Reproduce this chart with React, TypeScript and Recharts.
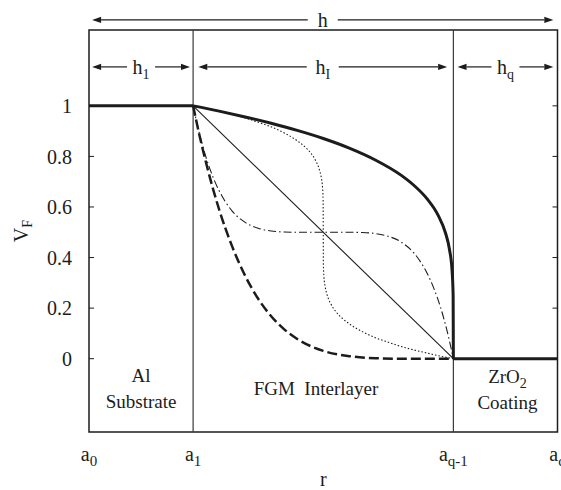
import React from "react";
import {
  LineChart,
  Line,
  XAxis,
  YAxis,
  ReferenceLine,
  ReferenceArea,
  ReferenceDot,
} from "recharts";

const FONT = "Liberation Serif, Times New Roman, serif";
const INK = "#1c1c1c";

// radial positions: a0 = 0, a1 = 1, a(q-1) = 3.5, aq = 4.5
const xTicks = [0, 1, 3.5, 4.5];
const xTickSubs = ["0", "1", "q-1", "q"];
const yTicks = [0, 0.2, 0.4, 0.6, 0.8, 1];

// thick solid pieces: substrate, convex profile, coating
const rSubstrate = [0, 1];
const vSubstrate = [1, 1];
const rConvex = [1, 1.25, 1.5, 1.75, 2, 2.25, 2.5, 2.75, 3, 3.125, 3.25, 3.35, 3.425, 3.4625, 3.4875, 3.4975, 3.5];
const vConvex = [1, 0.979, 0.956, 0.931, 0.903, 0.871, 0.833, 0.786, 0.725, 0.684, 0.631, 0.57, 0.496, 0.432, 0.347, 0.251, 0];
const rCoating = [3.5, 4.5];
const vCoating = [0, 0];

// thick dashed: concave profile
const rDashed = [1, 1.0625, 1.125, 1.1875, 1.25, 1.375, 1.5, 1.625, 1.75, 1.875, 2, 2.25, 2.5, 2.75, 3, 3.25, 3.5];
const vDashed = [1, 0.881, 0.774, 0.677, 0.59, 0.444, 0.328, 0.237, 0.168, 0.116, 0.078, 0.031, 0.01, 0.002, 0, 0, 0];

// thin solid: linear
const rLinear = [1, 3.5];
const vLinear = [1, 0];

// dotted: steep in the middle
const rDotted = [1, 1.125, 1.25, 1.375, 1.5, 1.625, 1.75, 1.875, 2, 2.0625, 2.125, 2.175, 2.2125, 2.23125, 2.24375, 2.24875, 2.25, 2.25125, 2.25625, 2.26875, 2.2875, 2.325, 2.375, 2.4375, 2.5, 2.625, 2.75, 2.875, 3, 3.125, 3.25, 3.375, 3.5];
const vDotted = [1, 0.99, 0.978, 0.966, 0.952, 0.935, 0.917, 0.893, 0.862, 0.842, 0.816, 0.785, 0.748, 0.716, 0.674, 0.626, 0.5, 0.374, 0.326, 0.284, 0.252, 0.215, 0.184, 0.158, 0.138, 0.107, 0.083, 0.065, 0.048, 0.034, 0.022, 0.01, 0];

// dash-dot: flat in the middle
const rDashDot = [1, 1.0625, 1.125, 1.1875, 1.25, 1.3125, 1.375, 1.5, 1.625, 1.75, 1.875, 2, 2.25, 2.5, 2.625, 2.75, 2.875, 3, 3.125, 3.1875, 3.25, 3.3125, 3.375, 3.4375, 3.5];
const vDashDot = [1, 0.887, 0.795, 0.722, 0.664, 0.619, 0.584, 0.539, 0.516, 0.505, 0.501, 0.5, 0.5, 0.5, 0.499, 0.495, 0.484, 0.461, 0.416, 0.381, 0.336, 0.278, 0.205, 0.113, 0];

const toPoints = (r: number[], v: number[]) => r.map((x, i) => ({ r: x, v: v[i] }));

// dimension arrows across the top
const spans = [
  { from: 0.03, to: 4.46, level: 1.34, sub: "", gap: 30 },
  { from: 0.03, to: 0.97, level: 1.154, sub: "1", gap: 28 },
  { from: 1.05, to: 3.44, level: 1.154, sub: "I", gap: 32 },
  { from: 3.54, to: 4.46, level: 1.154, sub: "q", gap: 28 },
];

const regions = [
  { x: 0.5, y: -0.118, lines: [["Al", ""], ["Substrate", ""]] },
  { x: 2.18, y: -0.118, lines: [["FGM\u00a0\u00a0Interlayer", ""]] },
  { x: 4.02, y: -0.122, lines: [["ZrO", "2"], ["Coating", ""]] },
];

function dimArrow(sub: string, gap: number) {
  return (props: any) => {
    const { x1, y1, x2 } = props;
    const mid = (x1 + x2) / 2;
    const ah = 9;
    const hw = 3.2;
    return (
      <g>
        <line x1={x1 + ah} y1={y1} x2={mid - gap / 2} y2={y1} stroke={INK} strokeWidth={1.2} />
        <line x1={mid + gap / 2} y1={y1} x2={x2 - ah} y2={y1} stroke={INK} strokeWidth={1.2} />
        <polygon points={`${x1},${y1} ${x1 + ah},${y1 - hw} ${x1 + ah},${y1 + hw}`} fill={INK} />
        <polygon points={`${x2},${y1} ${x2 - ah},${y1 - hw} ${x2 - ah},${y1 + hw}`} fill={INK} />
        <text x={mid} y={y1 + 7} textAnchor="middle" fontFamily={FONT} fontSize={20} fill={INK}>
          h
          {sub && (
            <tspan fontSize={14} dy={5}>
              {sub}
            </tspan>
          )}
        </text>
      </g>
    );
  };
}

function regionText(lines: string[][]) {
  return (props: any) => {
    const { cx, cy } = props;
    const n = lines.length;
    return (
      <g>
        {lines.map(([main, sub], i) => (
          <text
            key={i}
            x={cx}
            y={cy + 6 + (i - (n - 1) / 2) * 26}
            textAnchor="middle"
            fontFamily={FONT}
            fontSize={19}
            fill={INK}
          >
            {main}
            {sub && (
              <tspan fontSize={14} dy={5}>
                {sub}
              </tspan>
            )}
          </text>
        ))}
      </g>
    );
  };
}

function RTick(props: any) {
  const { x, y, payload } = props;
  const sub = xTickSubs[xTicks.indexOf(payload.value)];
  return (
    <text x={x} y={y + 29} textAnchor="middle" fontFamily={FONT} fontSize={20} fill={INK}>
      a
      <tspan fontSize={15} dy={5}>
        {sub}
      </tspan>
    </text>
  );
}

const yLabel = (props: any) => {
  const vb = props.viewBox || {};
  const cx = 22;
  const cy = vb.y + vb.height / 2;
  return (
    <text
      x={cx}
      y={cy + 6}
      transform={`rotate(-90, ${cx}, ${cy})`}
      textAnchor="middle"
      fontFamily={FONT}
      fontSize={20}
      fill={INK}
    >
      V
      <tspan fontSize={14} dy={4}>
        F
      </tspan>
    </text>
  );
};

const xLabel = (props: any) => {
  const vb = props.viewBox || {};
  return (
    <text x={vb.x + vb.width / 2} y={vb.y + vb.height - 4} textAnchor="middle" fontFamily={FONT} fontSize={20} fill={INK}>
      r
    </text>
  );
};

const noTick = () => <g />;

export default function App() {
  const domainY: [number, number] = [-0.29, 1.3];
  const thick = { stroke: INK, strokeWidth: 3, dot: false, activeDot: false, isAnimationActive: false, dataKey: "v" };
  return (
    <div style={{ position: "absolute", left: 0, top: 0, background: "#fff" }}>
      <LineChart width={561} height={490} margin={{ top: 30, right: 3.5, bottom: 0, left: 0 }}>
        <XAxis
          dataKey="r"
          type="number"
          domain={[0, 4.5]}
          ticks={xTicks}
          interval={0}
          allowDataOverflow
          axisLine={false}
          tickLine={false}
          tickSize={0}
          tickMargin={0}
          height={58}
          tick={<RTick />}
          label={xLabel}
        />
        <YAxis
          type="number"
          domain={domainY}
          ticks={yTicks}
          interval={0}
          allowDataOverflow
          width={89}
          axisLine={false}
          tickLine={false}
          tickSize={0}
          tickMargin={17}
          tick={{ fontFamily: FONT, fontSize: 20, fill: INK }}
          label={yLabel}
        />
        <YAxis
          yAxisId="innerLeft"
          type="number"
          orientation="left"
          mirror
          domain={domainY}
          ticks={yTicks}
          interval={0}
          allowDataOverflow
          axisLine={false}
          tickLine={{ stroke: INK, strokeWidth: 1 }}
          tickSize={5}
          tick={noTick}
        />
        <YAxis
          yAxisId="innerRight"
          type="number"
          orientation="right"
          mirror
          domain={domainY}
          ticks={yTicks}
          interval={0}
          allowDataOverflow
          axisLine={false}
          tickLine={{ stroke: INK, strokeWidth: 1 }}
          tickSize={5}
          tick={noTick}
        />

        <ReferenceArea
          x1={0}
          x2={4.5}
          y1={domainY[0]}
          y2={domainY[1]}
          fill="none"
          fillOpacity={0}
          stroke={INK}
          strokeWidth={1.5}
          ifOverflow="visible"
        />
        <ReferenceLine x={1} stroke="#3a3a3a" strokeWidth={1.2} />
        <ReferenceLine x={3.5} stroke="#3a3a3a" strokeWidth={1.2} />

        {spans.map((s, i) => (
          <ReferenceLine
            key={`span${i}`}
            segment={[
              { x: s.from, y: s.level },
              { x: s.to, y: s.level },
            ]}
            ifOverflow="visible"
            shape={dimArrow(s.sub, s.gap)}
          />
        ))}

        {regions.map((g, i) => (
          <ReferenceDot
            key={`reg${i}`}
            x={g.x}
            y={g.y}
            r={0}
            ifOverflow="visible"
            shape={regionText(g.lines)}
          />
        ))}

        <Line
          data={toPoints(rLinear, vLinear)}
          dataKey="v"
          type="linear"
          stroke={INK}
          strokeWidth={1.1}
          dot={false}
          activeDot={false}
          isAnimationActive={false}
        />
        <Line
          data={toPoints(rDotted, vDotted)}
          dataKey="v"
          type="monotone"
          stroke={INK}
          strokeWidth={1.1}
          strokeDasharray="1.5 2"
          dot={false}
          activeDot={false}
          isAnimationActive={false}
        />
        <Line
          data={toPoints(rDashDot, vDashDot)}
          dataKey="v"
          type="monotone"
          stroke={INK}
          strokeWidth={1.1}
          strokeDasharray="8 3 1.5 3"
          dot={false}
          activeDot={false}
          isAnimationActive={false}
        />
        <Line
          data={toPoints(rDashed, vDashed)}
          dataKey="v"
          type="monotone"
          stroke={INK}
          strokeWidth={2.5}
          strokeDasharray="10 4"
          dot={false}
          activeDot={false}
          isAnimationActive={false}
        />
        <Line {...thick} data={toPoints(rSubstrate, vSubstrate)} type="linear" />
        <Line {...thick} data={toPoints(rConvex, vConvex)} type="monotone" />
        <Line {...thick} data={toPoints(rCoating, vCoating)} type="linear" />
      </LineChart>
    </div>
  );
}
